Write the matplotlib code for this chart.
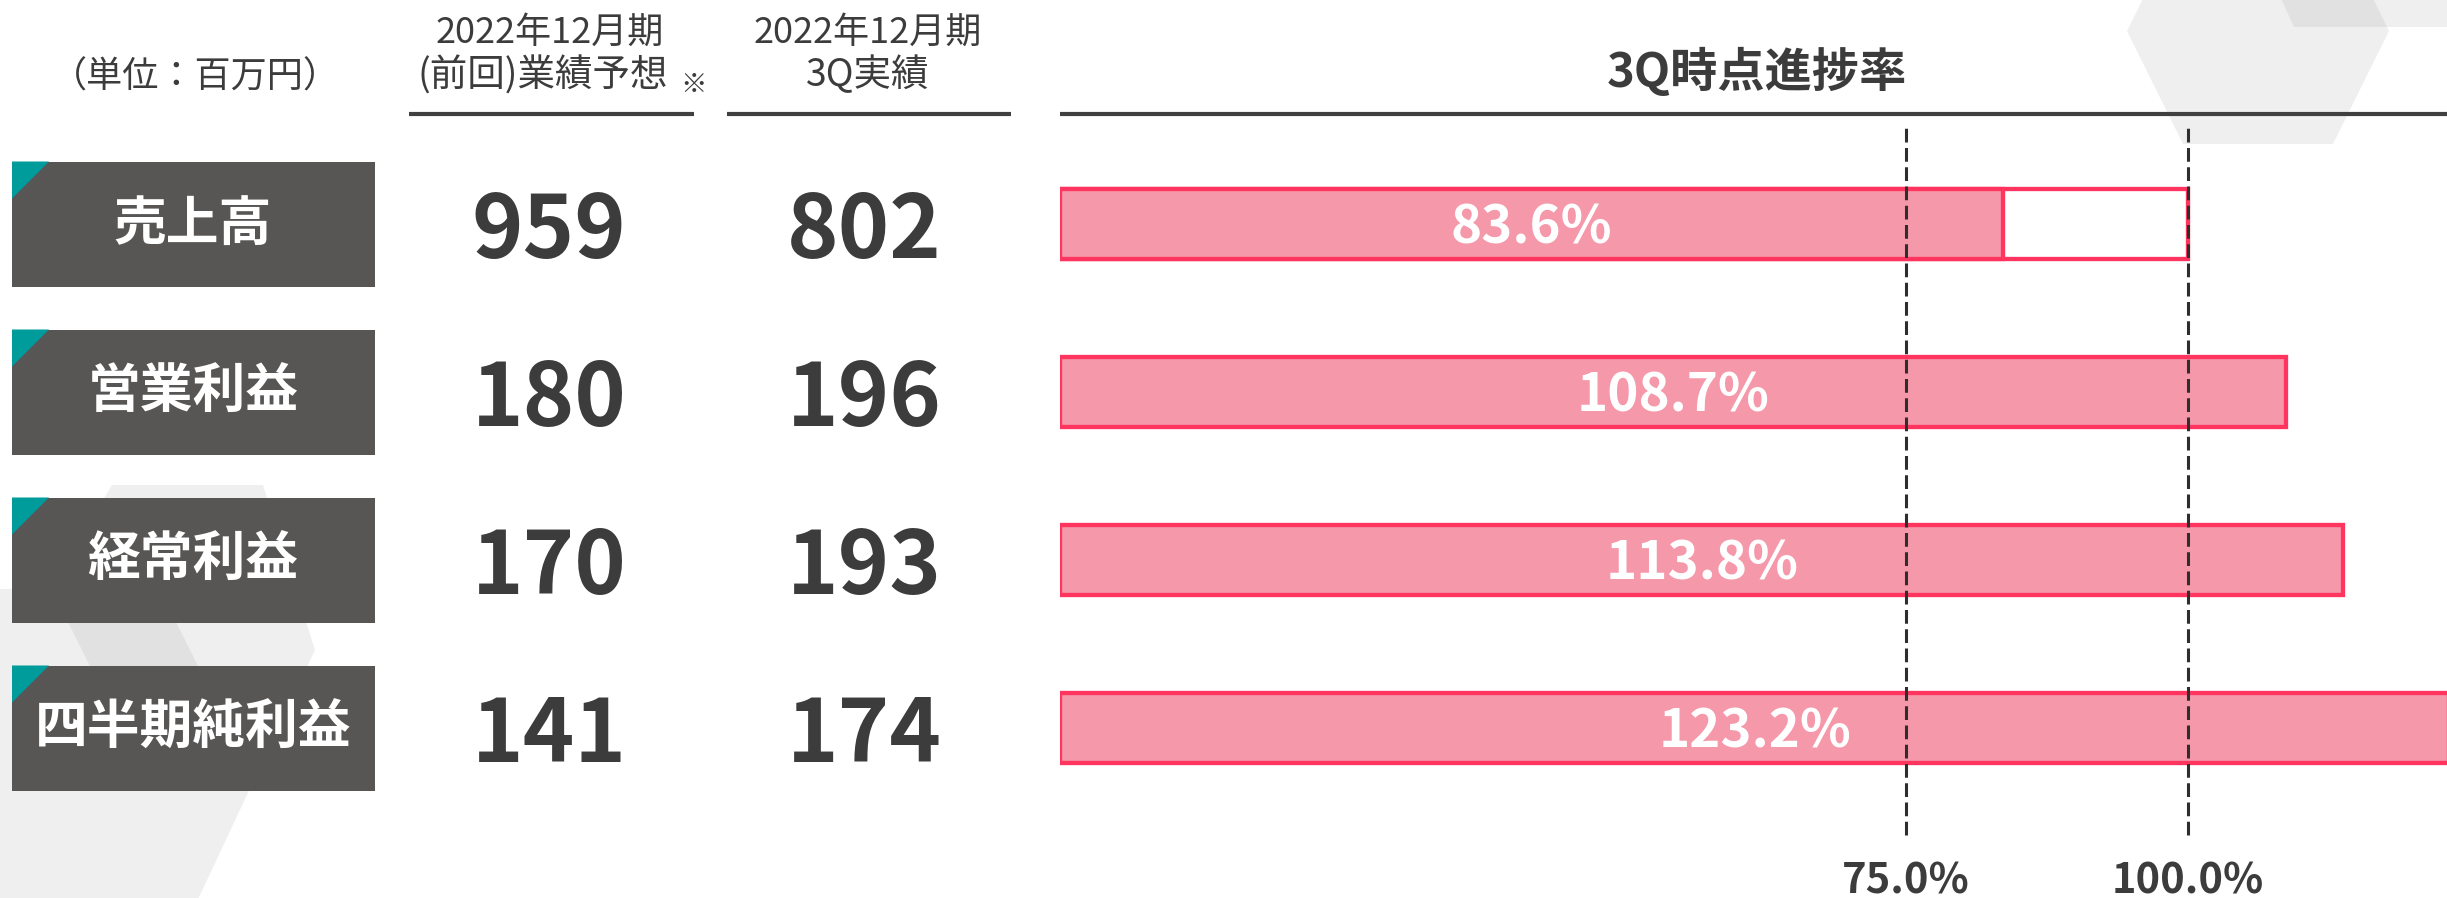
import matplotlib
matplotlib.use('Agg')
import matplotlib.pyplot as plt
from matplotlib import transforms
from matplotlib.patches import Rectangle, Polygon

plt.rcParams['font.family'] = ['Noto Sans CJK JP', 'DejaVu Sans']

# data (単位：百万円)
items = ['売上高', '営業利益', '経常利益', '四半期純利益']
forecast = [959, 180, 170, 141]          # 2022年12月期 (前回)業績予想
actual_3q = [802, 196, 193, 174]         # 2022年12月期 3Q実績
progress = [83.6, 108.7, 113.8, 123.2]   # 3Q時点進捗率 (%)
ref_lines = [75.0, 100.0]
target = 100.0

# colours
dark = '#3c3c3c'
box_col = '#575655'
teal = '#009b9b'
bar_fill = '#f598aa'
bar_edge = '#ff3560'

W, H = 2447, 898
fig = plt.figure(figsize=(W / 100, H / 100), dpi=100)

# background layer in pixel units (top-left origin)
bg = fig.add_axes([0, 0, 1, 1])
bg.set_xlim(0, W)
bg.set_ylim(H, 0)
bg.axis('off')

# bar axes: rows are spaced 168px apart, first row centred at 224px
row0, row_gap = 224, 168
left_px = 1060
ax = fig.add_axes([left_px / W, 0, (W - left_px) / W, 1])
ax.set_xlim(0, 123.0)
ax.set_ylim((H - row0) / row_gap, -row0 / row_gap)
ax.set_facecolor('none')
ax.axis('off')

rowtf = transforms.blended_transform_factory(bg.transData, ax.transData)

# faint hexagon decorations
shade = dict(facecolor='#808080', alpha=0.125, edgecolor='none', zorder=0)
bg.add_patch(Polygon([(2127, 31), (2183, -82), (2333, -82), (2389, 31),
                      (2333, 144), (2183, 144)], **shade))
bg.add_patch(Polygon([(2294, 27), (2268, -30), (2470, -30), (2470, 27)], **shade))
bg.add_patch(Polygon([(112, 485), (263, 485), (315, 650), (193, 910),
                      (0, 910), (0, 589), (50, 589)], **shade))
bg.add_patch(Polygon([(60, 606), (168, 606), (205, 680), (97, 680)], **shade))

# column headers
bg.text(195, 78, '（単位：百万円）', ha='center', va='center', fontsize=26, color=dark)
bg.text(550, 33, '2022年12月期', ha='center', va='center', fontsize=26, color=dark)
bg.text(543, 76, '(前回)業績予想', ha='center', va='center', fontsize=27, color=dark)
bg.text(680, 86, '※', ha='left', va='center', fontsize=19, color=dark)
bg.text(868, 33, '2022年12月期', ha='center', va='center', fontsize=26, color=dark)
bg.text(868, 76, '3Q実績', ha='center', va='center', fontsize=27, color=dark)
bg.text(1757, 72, '3Q時点進捗率', ha='center', va='center', fontsize=34,
        fontweight='bold', color=dark)
for x0, x1 in [(409, 694), (727, 1011), (1060, W)]:
    bg.plot([x0, x1], [114, 114], color='#404040', lw=3, solid_capstyle='butt', zorder=2)

# label boxes and figures
box_h = 125 / row_gap
tri = 37
for i, name in enumerate(items):
    top = i - box_h / 2
    bg.add_patch(Rectangle((12, top), 363, box_h, transform=rowtf,
                           facecolor=box_col, edgecolor='none', zorder=3))
    bg.add_patch(Polygon([(12, top), (12 + tri, top), (12, top + tri / row_gap)],
                         closed=True, transform=rowtf, facecolor=teal,
                         edgecolor='none', zorder=4))
    bg.text(193, i, name, transform=rowtf, ha='center', va='center',
            fontsize=38, fontweight='bold', color='white', zorder=5)
    bg.text(549, i + 0.2, f'{forecast[i]}', transform=rowtf, ha='center',
            va='baseline', fontsize=63, fontweight='bold', color=dark)
    bg.text(864, i + 0.2, f'{actual_3q[i]}', transform=rowtf, ha='center',
            va='baseline', fontsize=63, fontweight='bold', color=dark)

# progress bars
rows = range(len(items))
bar_h = 0.42
for i, v in zip(rows, progress):
    if v < target:
        ax.barh(i, target, height=bar_h, color='white', edgecolor=bar_edge,
                linewidth=3.1, zorder=2)
ax.barh(list(rows), progress, height=bar_h, color=bar_fill, edgecolor=bar_edge,
        linewidth=3.1, zorder=3)
for i, v in zip(rows, progress):
    ax.text(v / 2, i + 0.115, f'{v:.1f}%', ha='center', va='baseline',
            fontsize=38, fontweight='bold', color='white', zorder=6)

# 75% / 100% reference lines
xtf = transforms.blended_transform_factory(ax.transData, bg.transData)
for r in ref_lines:
    ax.axvline(r, ymin=(H - 835) / H, ymax=(H - 125) / H, color='#2e2e2e',
               lw=2.2, linestyle=(0, (4.5, 1.8)), zorder=5)
    ax.text(r, 893, f'{r:.1f}%', transform=xtf, ha='center', va='baseline',
            fontsize=30, fontweight='bold', color=dark, clip_on=False)

fig.savefig('out.png', dpi=100)
